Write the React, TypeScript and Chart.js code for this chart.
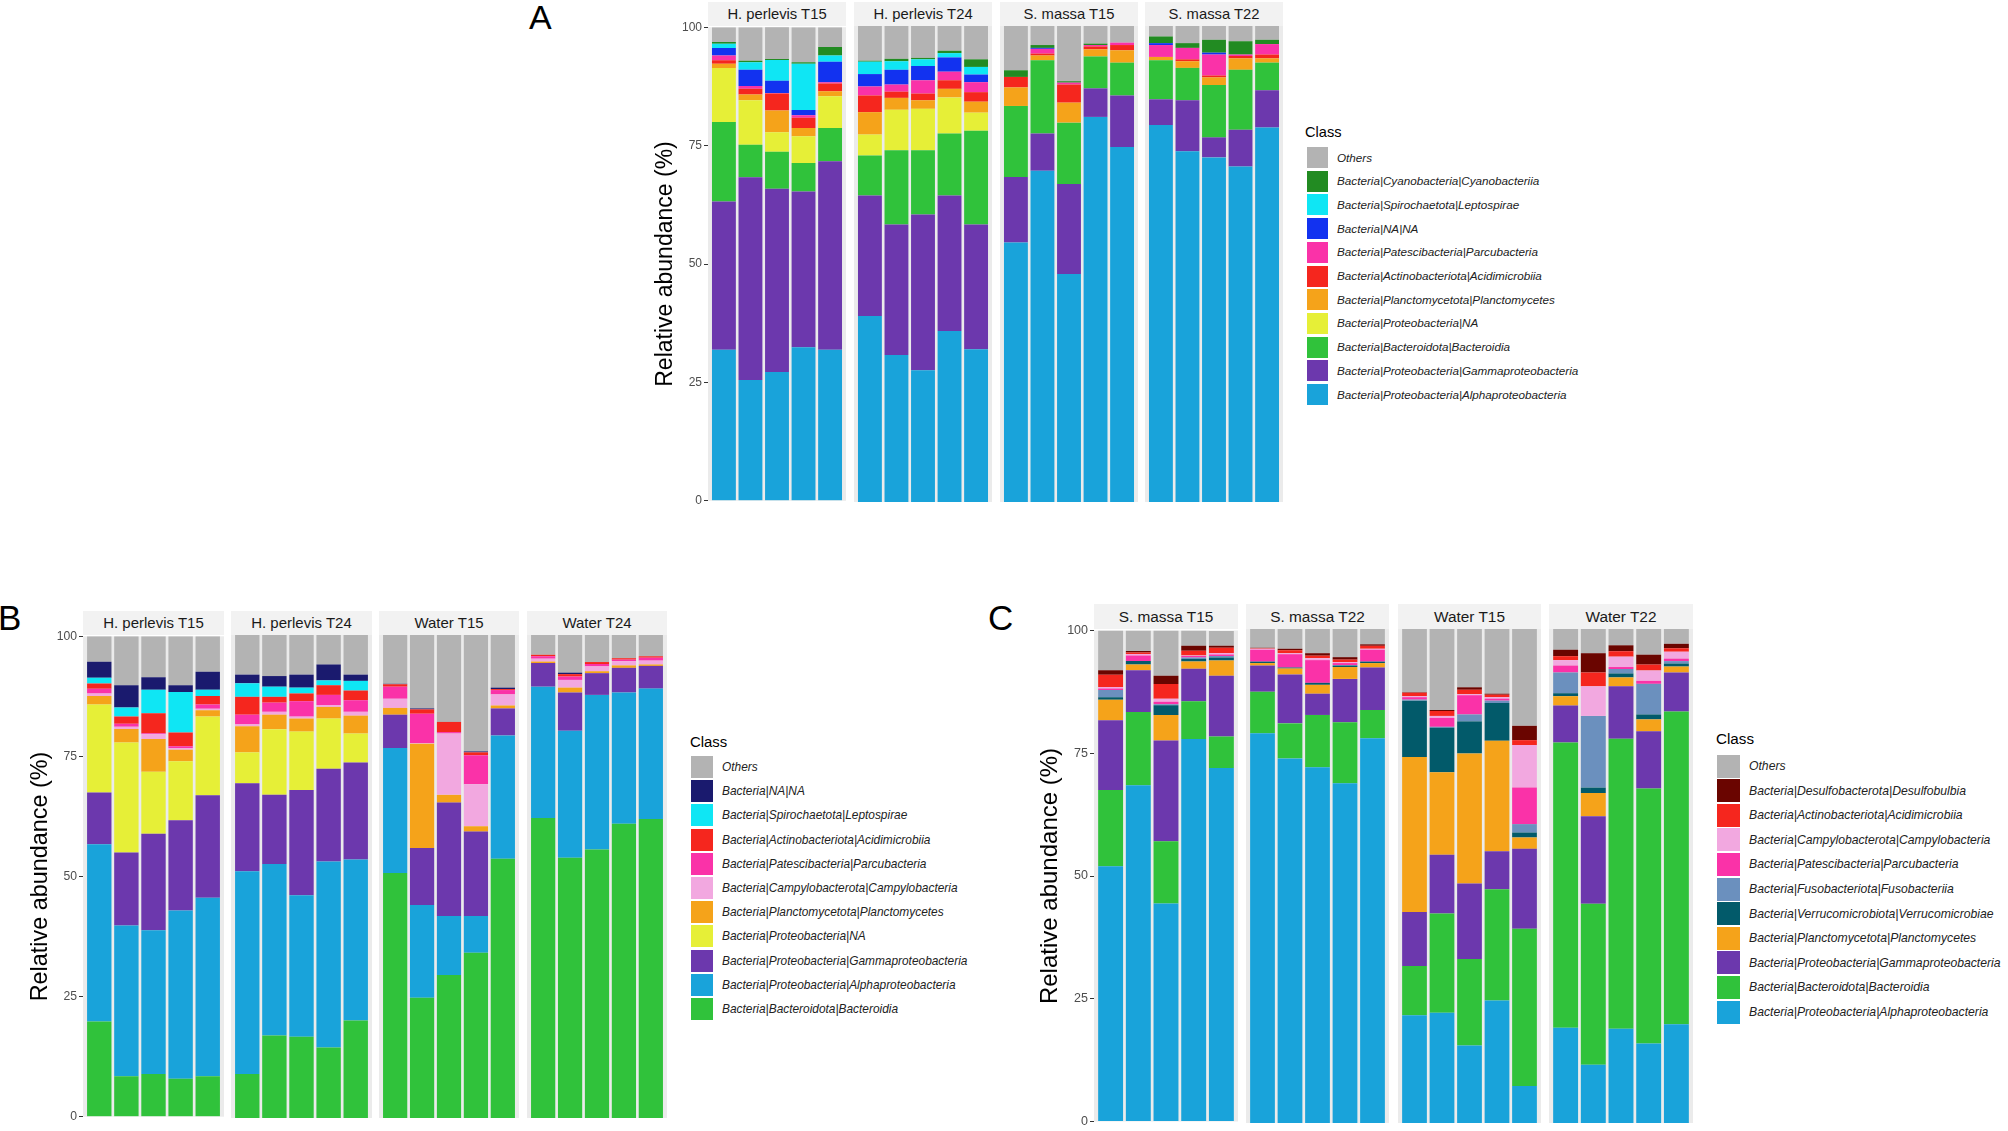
import React, { useEffect, useRef } from 'react';
import { Chart, registerables } from 'chart.js';

Chart.register(...registerables);

// ===================== DATA =====================
// Panel A (stack order bottom -> top)
const A_FACETS = ['H. perlevis T15', 'H. perlevis T24', 'S. massa T15', 'S. massa T22'];
const A_CLASSES = [
  'Bacteria|Proteobacteria|Alphaproteobacteria',
  'Bacteria|Proteobacteria|Gammaproteobacteria',
  'Bacteria|Bacteroidota|Bacteroidia',
  'Bacteria|Proteobacteria|NA',
  'Bacteria|Planctomycetota|Planctomycetes',
  'Bacteria|Actinobacteriota|Acidimicrobiia',
  'Bacteria|Patescibacteria|Parcubacteria',
  'Bacteria|NA|NA',
  'Bacteria|Spirochaetota|Leptospirae',
  'Bacteria|Cyanobacteria|Cyanobacteriia',
  'Others',
];
const A_COLORS = ['#19A3DA', '#6C38AD', '#30C23B', '#E6EF37', '#F5A31A', '#F5261E', '#FA32A8', '#1232F0', '#0FE6F4', '#228B22', '#B3B3B3'];
const A_ALPHA = [31.9, 25.5, 27.2, 32.4, 31.9, 39.1, 30.9, 27.7, 35.9, 32.1, 54.5, 69.6, 47.9, 80.9, 74.6, 79.2, 73.7, 72.4, 70.5, 78.7];
const A_GAMMA = [31.3, 42.8, 38.7, 32.9, 39.8, 25.3, 27.4, 32.7, 28.5, 26.2, 13.8, 7.8, 18.9, 6.0, 10.8, 5.4, 10.7, 4.2, 7.7, 7.8];
const A_BACTEROIDIA = [16.8, 6.9, 7.8, 6.0, 7.0, 8.4, 15.6, 13.5, 13.0, 19.7, 14.9, 15.4, 12.9, 6.7, 6.9, 8.2, 6.8, 11.0, 12.6, 5.8];
const A_PROTEO_NA = [11.4, 9.4, 4.1, 5.7, 6.7, 4.4, 8.5, 8.7, 7.6, 3.8, 0, 0, 0, 0, 0, 0, 0, 0, 0, 0];
const A_PLANCTO = [0.9, 1.2, 4.6, 1.7, 1.1, 4.7, 2.5, 1.8, 1.8, 2.3, 3.9, 1.0, 4.2, 1.5, 2.6, 0.7, 1.4, 1.6, 2.4, 0.9];
const A_ACIDI = [0.7, 1.2, 3.6, 2.2, 1.6, 3.5, 1.3, 1.4, 1.8, 2.0, 2.2, 0.4, 3.8, 0.6, 1.1, 0, 0.4, 0.4, 0.5, 0.8];
const A_PARCU = [1.0, 0.6, 0.1, 0.5, 0.3, 1.9, 1.5, 2.8, 1.8, 2.1, 0, 1.0, 0.4, 0.3, 0.5, 2.5, 2.4, 4.4, 0.3, 2.2];
const A_NANA = [1.6, 3.4, 2.6, 1.1, 4.3, 2.6, 3.1, 3.0, 3.0, 1.6, 0, 0.2, 0, 0, 0, 0.4, 0, 0.4, 0, 0];
const A_LEPTO = [0.9, 1.6, 4.4, 9.8, 1.3, 2.6, 1.8, 1.4, 0.9, 1.6, 0, 0, 0, 0, 0, 0, 0, 0, 0, 0];
const A_CYANO = [0.4, 0.3, 0.2, 0.3, 1.8, 0.2, 0.5, 0.3, 0.5, 1.6, 1.4, 0.6, 0.3, 0.3, 0, 1.4, 1.0, 2.7, 2.8, 0.9];
const A_OTHERS = [3.1, 7.1, 6.8, 7.4, 4.2, 7.3, 6.9, 6.7, 5.2, 7.0, 9.3, 4.0, 11.6, 3.7, 3.5, 2.2, 3.6, 2.9, 3.2, 2.9];

// Panel B (stack order bottom -> top)
const B_FACETS = ['H. perlevis T15', 'H. perlevis T24', 'Water T15', 'Water T24'];
const B_CLASSES = [
  'Bacteria|Bacteroidota|Bacteroidia',
  'Bacteria|Proteobacteria|Alphaproteobacteria',
  'Bacteria|Proteobacteria|Gammaproteobacteria',
  'Bacteria|Proteobacteria|NA',
  'Bacteria|Planctomycetota|Planctomycetes',
  'Bacteria|Campylobacterota|Campylobacteria',
  'Bacteria|Patescibacteria|Parcubacteria',
  'Bacteria|Actinobacteriota|Acidimicrobiia',
  'Bacteria|Spirochaetota|Leptospirae',
  'Bacteria|NA|NA',
  'Others',
];
const B_COLORS = ['#30C23B', '#19A3DA', '#6C38AD', '#E6EF37', '#F5A31A', '#F2A8E0', '#FA32A8', '#F5261E', '#0FE6F4', '#1A1A6E', '#B3B3B3'];
const B_BACTEROIDIA = [19.8, 8.4, 8.9, 7.9, 8.4, 9.1, 17.1, 16.8, 14.6, 20.2, 50.7, 24.9, 29.6, 34.2, 53.7, 62.1, 53.9, 55.6, 60.9, 61.9];
const B_ALPHA = [36.9, 31.4, 29.9, 35.0, 37.2, 42.0, 35.5, 29.3, 38.5, 33.3, 25.9, 19.2, 12.2, 7.6, 25.5, 27.2, 26.3, 32.0, 27.2, 27.0];
const B_GAMMA = [10.8, 15.2, 20.1, 18.8, 21.3, 18.2, 14.3, 21.8, 19.2, 20.1, 6.9, 11.8, 23.5, 17.5, 5.6, 4.9, 7.9, 4.5, 5.1, 4.7];
const B_PROTEO_NA = [18.3, 22.9, 12.9, 12.3, 16.4, 6.4, 13.6, 12.1, 10.4, 6.0, 0, 0, 0, 0, 0, 0, 0, 0, 0, 0];
const B_PLANCTO = [1.8, 2.8, 6.8, 2.4, 1.3, 5.4, 3.0, 2.7, 2.4, 3.7, 1.4, 21.6, 1.6, 1.1, 0.6, 0.3, 1.0, 0.4, 0.5, 0.3];
const B_CAMPYLO = [0.5, 0.5, 1.0, 0.3, 0.3, 0.4, 0.6, 0.4, 0.4, 0.8, 1.9, 0.1, 12.7, 8.7, 2.3, 0.6, 1.6, 1.0, 0.9, 0.8];
const B_PARCU = [1.0, 0.6, 0.2, 0.4, 0.9, 2.0, 1.9, 3.2, 2.1, 2.4, 2.5, 6.1, 0.3, 6.0, 0.9, 0.5, 0.7, 0.5, 0.3, 0.6];
const B_ACIDI = [1.1, 1.5, 4.2, 2.9, 1.8, 3.7, 1.2, 1.6, 2.0, 2.0, 0.5, 0.9, 2.1, 0.6, 0.2, 0.3, 0.5, 0.4, 0.3, 0.3];
const B_LEPTO = [1.2, 1.9, 4.9, 8.4, 1.3, 2.8, 2.1, 1.2, 1.0, 2.0, 0, 0, 0, 0, 0, 0, 0, 0, 0, 0];
const B_NANA = [3.3, 4.6, 2.6, 1.4, 3.7, 1.8, 2.2, 2.7, 3.3, 1.3, 0.1, 0.2, 0, 0.2, 0.3, 0, 0.3, 0, 0, 0];
const B_OTHERS = [5.3, 10.2, 8.5, 10.2, 7.4, 8.2, 8.5, 8.2, 6.1, 8.2, 10.2, 15.2, 18.0, 24.1, 10.9, 4.1, 7.8, 5.6, 4.8, 4.4];

// Panel C (stack order bottom -> top)
const C_FACETS = ['S. massa T15', 'S. massa T22', 'Water T15', 'Water T22'];
const C_CLASSES = [
  'Bacteria|Proteobacteria|Alphaproteobacteria',
  'Bacteria|Bacteroidota|Bacteroidia',
  'Bacteria|Proteobacteria|Gammaproteobacteria',
  'Bacteria|Planctomycetota|Planctomycetes',
  'Bacteria|Verrucomicrobiota|Verrucomicrobiae',
  'Bacteria|Fusobacteriota|Fusobacteriia',
  'Bacteria|Patescibacteria|Parcubacteria',
  'Bacteria|Campylobacterota|Campylobacteria',
  'Bacteria|Actinobacteriota|Acidimicrobiia',
  'Bacteria|Desulfobacterota|Desulfobulbia',
  'Others',
];
const C_COLORS = ['#19A3DA', '#30C23B', '#6C38AD', '#F5A31A', '#025A6A', '#6B90BE', '#FA32A8', '#F2A8E0', '#F5261E', '#6A0500', '#B3B3B3'];
const C_ALPHA = [52.0, 68.5, 44.4, 77.9, 72.0, 78.9, 73.8, 72.0, 68.8, 77.9, 21.8, 22.3, 15.7, 24.8, 7.5, 19.3, 11.8, 19.1, 16.1, 20.0];
const C_BACTEROIDIA = [15.5, 14.9, 12.7, 7.7, 6.4, 8.4, 7.1, 10.6, 12.3, 5.7, 10.0, 20.1, 17.5, 22.5, 31.8, 57.7, 32.6, 58.7, 51.6, 63.3];
const C_GAMMA = [14.2, 8.5, 20.5, 6.6, 12.4, 5.3, 9.9, 4.3, 8.8, 8.6, 10.9, 11.9, 15.3, 7.7, 16.2, 7.5, 17.7, 10.6, 11.6, 7.9];
const C_PLANCTO = [4.2, 1.2, 5.2, 1.5, 3.1, 0.5, 1.2, 1.8, 2.4, 0.9, 31.4, 16.7, 26.3, 22.4, 2.3, 1.9, 4.7, 1.8, 2.4, 1.2];
const C_VERRUCO = [0.5, 0.7, 2.0, 0.5, 0.6, 0.3, 0.2, 0.4, 0.3, 0.3, 11.4, 9.0, 6.5, 7.6, 1.0, 0.6, 1.1, 0.8, 1.0, 0.6];
const C_FUSO = [1.5, 0, 0.2, 0.3, 0.3, 0, 0, 0, 0.1, 0, 0.2, 0.2, 1.4, 0.5, 1.7, 4.2, 14.5, 0.9, 6.2, 0.5];
const C_PARCU = [0.3, 1.1, 0.5, 0.3, 0.3, 2.4, 2.7, 4.6, 0.4, 2.4, 0.5, 1.8, 3.9, 0.4, 7.4, 1.4, 0, 0.4, 0.6, 0.5];
const C_CAMPYLO = [0.3, 0.3, 0.6, 0.1, 0.3, 0.2, 0.2, 0.4, 0.2, 0.2, 0.2, 0.4, 0.2, 0.3, 8.6, 1.1, 6.0, 2.1, 2.1, 1.4];
const C_ACIDI = [2.5, 0.3, 3.0, 1.0, 1.1, 0.1, 0.6, 0.5, 0.5, 0.6, 0.7, 1.0, 0.9, 0.5, 1.0, 0.8, 2.8, 1.1, 1.2, 0.7];
const C_DESULFO = [0.9, 0.3, 1.7, 1.0, 0.4, 0.1, 0.3, 0.5, 0.5, 0.3, 0.1, 0.2, 0.5, 0.2, 2.9, 1.3, 3.9, 1.2, 2.0, 0.9];
const C_OTHERS = [8.1, 4.2, 9.2, 3.1, 3.0, 3.8, 4.0, 4.9, 5.8, 3.1, 12.8, 16.4, 11.8, 13.1, 19.6, 4.2, 4.9, 3.3, 5.2, 3.0];

const Y_TICKS = [0, 25, 50, 75, 100];
const Y_TITLE = 'Relative abundance (%)';
const LEGEND_TITLE = 'Class';

const A_SERIES = [A_ALPHA, A_GAMMA, A_BACTEROIDIA, A_PROTEO_NA, A_PLANCTO, A_ACIDI, A_PARCU, A_NANA, A_LEPTO, A_CYANO, A_OTHERS];
const B_SERIES = [B_BACTEROIDIA, B_ALPHA, B_GAMMA, B_PROTEO_NA, B_PLANCTO, B_CAMPYLO, B_PARCU, B_ACIDI, B_LEPTO, B_NANA, B_OTHERS];
const C_SERIES = [C_ALPHA, C_BACTEROIDIA, C_GAMMA, C_PLANCTO, C_VERRUCO, C_FUSO, C_PARCU, C_CAMPYLO, C_ACIDI, C_DESULFO, C_OTHERS];

// ===================== LAYOUT / STYLE =====================
const FONT = "'Liberation Sans', Arial, Helvetica, sans-serif";
const PANEL_BG = '#EBEBEB';
const STRIP_BG = '#F2F2F2';
const PAD = 8;
const AXIS_W = 60;
const BARS_PER_FACET = 5;

type Layout = {
  letter: string; letterLeft: number; letterTop: number; letterSize: number;
  x0: number; step: number; w: number; plotTop: number; plotBottom: number;
  stripH: number; stripFont: number; tickFont: number; titleFont: number; titleCenterX: number;
  legTitleX: number; legTitleY: number; legTitleFont: number; keyX: number; keySize: number;
  rowY0: number; rowStep: number; textX: number; textFont: number;
};

const LAYOUT_A: Layout = {
  letter: 'A', letterLeft: 529, letterTop: 0, letterSize: 34,
  x0: 708.3, step: 145.6, w: 138, plotTop: 26, plotBottom: 502,
  stripH: 24, stripFont: 14.8, tickFont: 12, titleFont: 23, titleCenterX: 666,
  legTitleX: 1305, legTitleY: 132, legTitleFont: 14.6, keyX: 1307, keySize: 21,
  rowY0: 157.5, rowStep: 23.7, textX: 1337, textFont: 11.7,
};
const LAYOUT_B: Layout = {
  letter: 'B', letterLeft: -2, letterTop: 600, letterSize: 35,
  x0: 83.3, step: 147.8, w: 140.5, plotTop: 635, plotBottom: 1118,
  stripH: 24.5, stripFont: 15, tickFont: 12.2, titleFont: 23.4, titleCenterX: 41,
  legTitleX: 690, legTitleY: 741.5, legTitleFont: 14.9, keyX: 691, keySize: 22,
  rowY0: 767, rowStep: 24.2, textX: 722, textFont: 11.9,
};
const LAYOUT_C: Layout = {
  letter: 'C', letterLeft: 988, letterTop: 600, letterSize: 35,
  x0: 1094.3, step: 151.6, w: 143.5, plotTop: 629, plotBottom: 1123,
  stripH: 25, stripFont: 15.4, tickFont: 12.5, titleFont: 24, titleCenterX: 1050,
  legTitleX: 1716, legTitleY: 739, legTitleFont: 15.2, keyX: 1717, keySize: 23,
  rowY0: 766, rowStep: 24.6, textX: 1749, textFont: 12.2,
};

const panelBgPlugin = {
  id: 'panelBg',
  beforeDatasetsDraw(chart: any) {
    const { ctx, chartArea: a } = chart;
    ctx.save();
    ctx.fillStyle = PANEL_BG;
    ctx.fillRect(a.left, a.top, a.right - a.left, a.bottom - a.top);
    ctx.restore();
  },
};

type FacetProps = {
  layout: Layout; facetIndex: number; classes: string[]; colors: string[]; series: number[][];
};

function facetBounds(layout: Layout, facetIndex: number) {
  const left = Math.round(layout.x0 + facetIndex * layout.step);
  const right = Math.round(layout.x0 + facetIndex * layout.step + layout.w);
  return { left, right };
}

function Strip({ layout, facetIndex, label }: { layout: Layout; facetIndex: number; label: string }) {
  const { left, right } = facetBounds(layout, facetIndex);
  return (
    <div
      style={{
        position: 'absolute', left, width: right - left,
        top: layout.plotTop - layout.stripH, height: layout.stripH,
        background: STRIP_BG, color: '#1A1A1A', fontFamily: FONT, fontSize: layout.stripFont,
        lineHeight: `${layout.stripH}px`, textAlign: 'center', whiteSpace: 'nowrap',
      }}
    >
      {label}
    </div>
  );
}

function FacetChart({ layout, facetIndex, classes, colors, series }: FacetProps) {
  const ref = useRef<HTMLCanvasElement>(null);
  const showAxis = facetIndex === 0;
  const { left: fLeft, right: fRight } = facetBounds(layout, facetIndex);
  const canvasLeft = showAxis ? fLeft - AXIS_W : fLeft;
  const canvasW = fRight - canvasLeft;
  const canvasTop = Math.round(layout.plotTop) - PAD;
  const canvasH = Math.round(layout.plotBottom) - Math.round(layout.plotTop) + 2 * PAD;

  useEffect(() => {
    const start = facetIndex * BARS_PER_FACET;
    const datasets = classes.map((c, k) => ({
      label: c,
      data: series[k].slice(start, start + BARS_PER_FACET).map((v, i) => ({ x: i + 1, y: v })),
      backgroundColor: colors[k],
      borderWidth: 0,
      barPercentage: 0.9,
      categoryPercentage: 1,
    }));
    const titlePad = layout.titleCenterX - canvasLeft - (layout.titleFont * 1.2) / 2;
    const yScale: any = {
      type: 'linear', stacked: true, min: 0, max: 100, display: showAxis,
      afterBuildTicks: (s: any) => { s.ticks = Y_TICKS.map((v) => ({ value: v })); },
      ticks: { font: { family: FONT, size: layout.tickFont }, color: '#4D4D4D', padding: 2 },
      grid: { drawOnChartArea: false, drawTicks: true, tickLength: 4, color: '#333333', lineWidth: 1 },
      border: { display: false },
      title: {
        display: showAxis, text: Y_TITLE, color: '#000000',
        font: { family: FONT, size: layout.titleFont },
        padding: { top: titlePad, bottom: 0 },
      },
    };
    if (showAxis) {
      yScale.afterFit = (s: any) => { s.width = AXIS_W; };
    }
    const chart = new Chart(ref.current as HTMLCanvasElement, {
      type: 'bar',
      data: { datasets } as any,
      options: {
        animation: false,
        responsive: false,
        maintainAspectRatio: false,
        layout: { padding: { top: PAD, bottom: PAD, left: 0, right: 0 } },
        plugins: { legend: { display: false }, tooltip: { enabled: false }, title: { display: false } },
        scales: {
          x: {
            type: 'linear', min: 0.4, max: 5.6, stacked: true, display: false, offset: false,
            ticks: { stepSize: 1, includeBounds: false }, grid: { display: false, offset: false },
          },
          y: yScale,
        },
      } as any,
      plugins: [panelBgPlugin],
    });
    return () => chart.destroy();
  }, []);

  return (
    <canvas
      ref={ref}
      width={canvasW}
      height={canvasH}
      style={{ position: 'absolute', left: canvasLeft, top: canvasTop, width: canvasW, height: canvasH }}
    />
  );
}

function Legend({ layout, classes, colors }: { layout: Layout; classes: string[]; colors: string[] }) {
  const order = classes.map((_, i) => classes.length - 1 - i);
  return (
    <>
      <div
        style={{
          position: 'absolute', left: layout.legTitleX, top: layout.legTitleY - 10, height: 20,
          lineHeight: '20px', fontFamily: FONT, fontSize: layout.legTitleFont, color: '#000', whiteSpace: 'nowrap',
        }}
      >
        {LEGEND_TITLE}
      </div>
      {order.map((k, r) => {
        const cy = layout.rowY0 + r * layout.rowStep;
        return (
          <React.Fragment key={k}>
            <div
              style={{
                position: 'absolute', left: layout.keyX, top: cy - layout.keySize / 2,
                width: layout.keySize, height: layout.keySize, background: colors[k],
              }}
            />
            <div
              style={{
                position: 'absolute', left: layout.textX, top: cy - 10, height: 20, lineHeight: '20px',
                fontFamily: FONT, fontStyle: 'italic', fontSize: layout.textFont, color: '#222',
                whiteSpace: 'nowrap',
              }}
            >
              {classes[k]}
            </div>
          </React.Fragment>
        );
      })}
    </>
  );
}

function Panel({ layout, facets, classes, colors, series }: {
  layout: Layout; facets: string[]; classes: string[]; colors: string[]; series: number[][];
}) {
  return (
    <>
      <div
        style={{
          position: 'absolute', left: layout.letterLeft, top: layout.letterTop,
          fontFamily: FONT, fontSize: layout.letterSize, lineHeight: 1, color: '#000',
        }}
      >
        {layout.letter}
      </div>
      {facets.map((f, i) => (
        <React.Fragment key={f}>
          <Strip layout={layout} facetIndex={i} label={f} />
          <FacetChart layout={layout} facetIndex={i} classes={classes} colors={colors} series={series} />
        </React.Fragment>
      ))}
      <Legend layout={layout} classes={classes} colors={colors} />
    </>
  );
}

export default function App() {
  return (
    <div style={{ position: 'absolute', left: 0, top: 0, width: 2008, height: 1131, background: '#fff', overflow: 'hidden' }}>
      <Panel layout={LAYOUT_A} facets={A_FACETS} classes={A_CLASSES} colors={A_COLORS} series={A_SERIES} />
      <Panel layout={LAYOUT_B} facets={B_FACETS} classes={B_CLASSES} colors={B_COLORS} series={B_SERIES} />
      <Panel layout={LAYOUT_C} facets={C_FACETS} classes={C_CLASSES} colors={C_COLORS} series={C_SERIES} />
    </div>
  );
}
